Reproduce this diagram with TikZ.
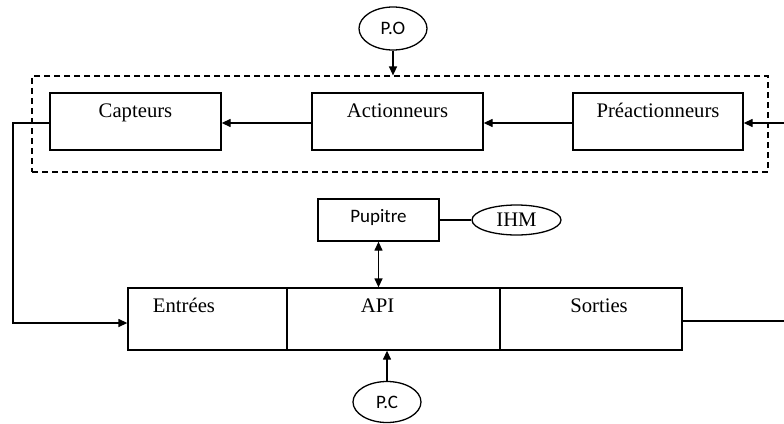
\documentclass[tikz,border=0pt]{standalone}
\usepackage{fontspec}
\setmainfont{Liberation Serif}
\newfontfamily\sansf{Carlito}
\usetikzlibrary{shapes.geometric,arrows.meta,calc}
\begin{document}
\begin{tikzpicture}[x=1pt,y=-1pt,
  box/.style={draw,line width=1.3pt,rectangle,inner sep=0pt},
  oval/.style={draw,line width=1.3pt,ellipse,inner sep=0pt},
  lbl/.style={font=\fontsize{20.7}{24}\selectfont,anchor=base,inner sep=0pt},
  slbl/.style={font=\sansf\fontsize{19}{22}\selectfont},
  conn/.style={line width=1.3pt},
  arr/.style={conn,-{Triangle[length=9pt,width=8pt]}},
  darr/.style={conn,{Triangle[length=9pt,width=8pt]}-{Triangle[length=9pt,width=8pt]}}]
\useasboundingbox (0,0) rectangle (784,423);
% dashed PO frame
\node[box,dashed,dash pattern=on 6pt off 4pt,line width=1.2pt,minimum width=736pt,minimum height=96pt] (frame) at (400,124) {};
% operative part
\node[box,minimum width=171pt,minimum height=57pt] (capt) at (135.5,121.5) {};
\node[box,minimum width=171pt,minimum height=57pt] (act) at (397.5,121.5) {};
\node[box,minimum width=170pt,minimum height=57pt] (pre) at (658,121.5) {};
\node[lbl] (captl) at (135.5,117) {Capteurs};
\node[lbl] (actl) at (397.5,117) {Actionneurs};
\node[lbl] (prel) at (658,117) {Préactionneurs};
\node[oval,slbl,minimum width=68pt,minimum height=43pt] (po) at (393,28.5) {P.O};
% control part
\node[box,minimum width=159pt,minimum height=62pt] (entr) at (207.5,319) {};
\node[box,minimum width=213pt,minimum height=62pt] (api) at (393.5,319) {};
\node[box,minimum width=182pt,minimum height=62pt] (sort) at (591,319) {};
\node[lbl] (entrl) at (184,312) {Entrées};
\node[lbl] (apil) at (377.5,312) {API};
\node[lbl] (sortl) at (599,312) {Sorties};
\node[box,minimum width=121pt,minimum height=42pt] (pup) at (378.5,220) {};
\node[slbl,anchor=base,inner sep=0pt] (pupl) at (378.5,222) {Pupitre};
\node[oval,font=\fontsize{20.7}{24}\selectfont,minimum width=89pt,minimum height=30pt] (ihm) at (516.5,220) {IHM};
\node[oval,slbl,minimum width=68pt,minimum height=41pt] (pc) at (387,402) {P.C};
% free ends
\coordinate (inR) at (784,123);
\coordinate (outR) at (784,321);
\coordinate (leftX) at (13,123);
% connectors
\draw[arr] (po.south) -- (po.south |- frame.north);
\draw[arr] (inR) -- (pre.east |- inR);
\draw[arr] (pre.west |- inR) -- (act.east |- inR);
\draw[arr] (act.west |- inR) -- (capt.east |- inR);
\draw[arr] (capt.west |- inR) -- (leftX) |- ([yshift=-4pt]entr.west);
\draw[darr] (pup.south) -- (pup.south |- api.north);
\draw[conn] (pup.east) -- (ihm.west);
\draw[arr] (pc.north) -- (pc.north |- api.south);
\draw[conn] ([yshift=-2pt]sort.east) -- (outR);
\end{tikzpicture}
\end{document}
